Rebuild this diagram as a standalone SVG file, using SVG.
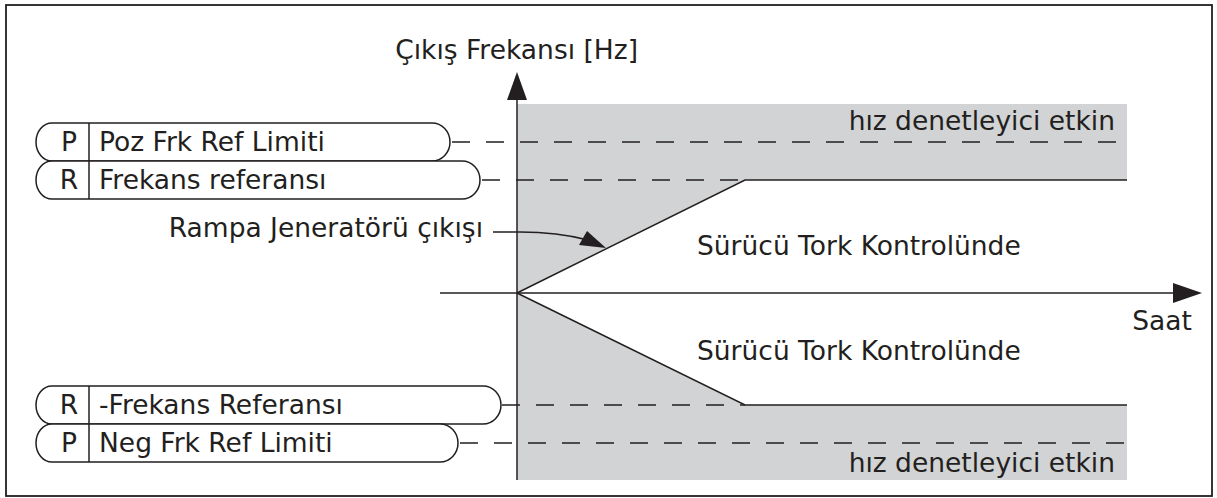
<svg xmlns="http://www.w3.org/2000/svg" width="1217" height="498" viewBox="0 0 1217 498">
<defs>
<style>
.t{font-family:"DejaVu Sans","Liberation Sans",sans-serif;font-size:26.5px;fill:#231f20}
.ln{stroke:#231f20;stroke-width:1.5;fill:none}
.dash{stroke:#231f20;stroke-width:1.5;fill:none;stroke-dasharray:18 16}
.box{fill:#fff;stroke:#231f20;stroke-width:1.5}
.grey{fill:#d1d3d4;stroke:none}
</style>
</defs>
<rect x="6" y="5" width="1206" height="491" fill="#fff" stroke="#231f20" stroke-width="1.8"/>
<g id="regions">
<polygon class="grey" points="517,104 1127,104 1127,180 745,180 517,293"/>
<polygon class="grey" points="517,293 745,405 1127,405 1127,480 517,480"/>
</g>
<g id="connectors">
<line class="dash" x1="452" y1="142" x2="1127" y2="142"/>
<line class="dash" x1="482" y1="180" x2="745" y2="180"/>
<line class="dash" x1="502" y1="405" x2="745" y2="405"/>
<line class="dash" x1="460" y1="443" x2="1127" y2="443"/>
<polyline class="ln" points="517,293 745,180 1127,180"/>
<polyline class="ln" points="517,293 745,405 1127,405"/>
<line class="ln" x1="517" y1="480" x2="517" y2="100"/>
<polygon points="517,72 507,100 527,100" fill="#231f20"/>
<line class="ln" x1="440" y1="293" x2="1173" y2="293"/>
<polygon points="1202,293 1173,283 1173,303" fill="#231f20"/>
<path d="M493,232 L520,232 C545,232 565,234 588,240" stroke="#231f20" stroke-width="1.5" fill="none"/>
<polygon points="606,248 579,245 587,231" fill="#231f20"/>
</g>
<g id="node-p-top">
<path class="box" d="M52,123 H432 A18,19 0 0 1 432,161 H52 A16,19 0 0 1 52,123 Z"/>
<line class="ln" x1="89" y1="123" x2="89" y2="161"/>
<text class="t" x="69" y="151" text-anchor="middle">P</text>
<text class="t" x="99" y="151">Poz Frk Ref Limiti</text>
</g>
<g id="node-r-top">
<path class="box" d="M52,161 H462 A18,19 0 0 1 462,199 H52 A16,19 0 0 1 52,161 Z"/>
<line class="ln" x1="89" y1="161" x2="89" y2="199"/>
<text class="t" x="69" y="189" text-anchor="middle">R</text>
<text class="t" x="99" y="189">Frekans referansı</text>
</g>
<g id="node-r-bottom">
<path class="box" d="M52,386 H483 A18,19 0 0 1 483,424 H52 A16,19 0 0 1 52,386 Z"/>
<line class="ln" x1="89" y1="386" x2="89" y2="424"/>
<text class="t" x="69" y="414" text-anchor="middle">R</text>
<text class="t" x="99" y="414">-Frekans Referansı</text>
</g>
<g id="node-p-bottom">
<path class="box" d="M52,424 H440 A18,19 0 0 1 440,462 H52 A16,19 0 0 1 52,424 Z"/>
<line class="ln" x1="89" y1="424" x2="89" y2="462"/>
<text class="t" x="69" y="452" text-anchor="middle">P</text>
<text class="t" x="99" y="452">Neg Frk Ref Limiti</text>
</g>
<g id="labels">
<text class="t" x="638" y="59" text-anchor="end">Çıkış Frekansı [Hz]</text>
<text class="t" x="1115" y="130" text-anchor="end">hız denetleyici etkin</text>
<text class="t" x="1115" y="472" text-anchor="end">hız denetleyici etkin</text>
<text class="t" x="483" y="237" text-anchor="end">Rampa Jeneratörü çıkışı</text>
<text class="t" x="697" y="255">Sürücü Tork Kontrolünde</text>
<text class="t" x="697" y="360">Sürücü Tork Kontrolünde</text>
<text class="t" x="1192" y="330" text-anchor="end">Saat</text>
</g>
</svg>
